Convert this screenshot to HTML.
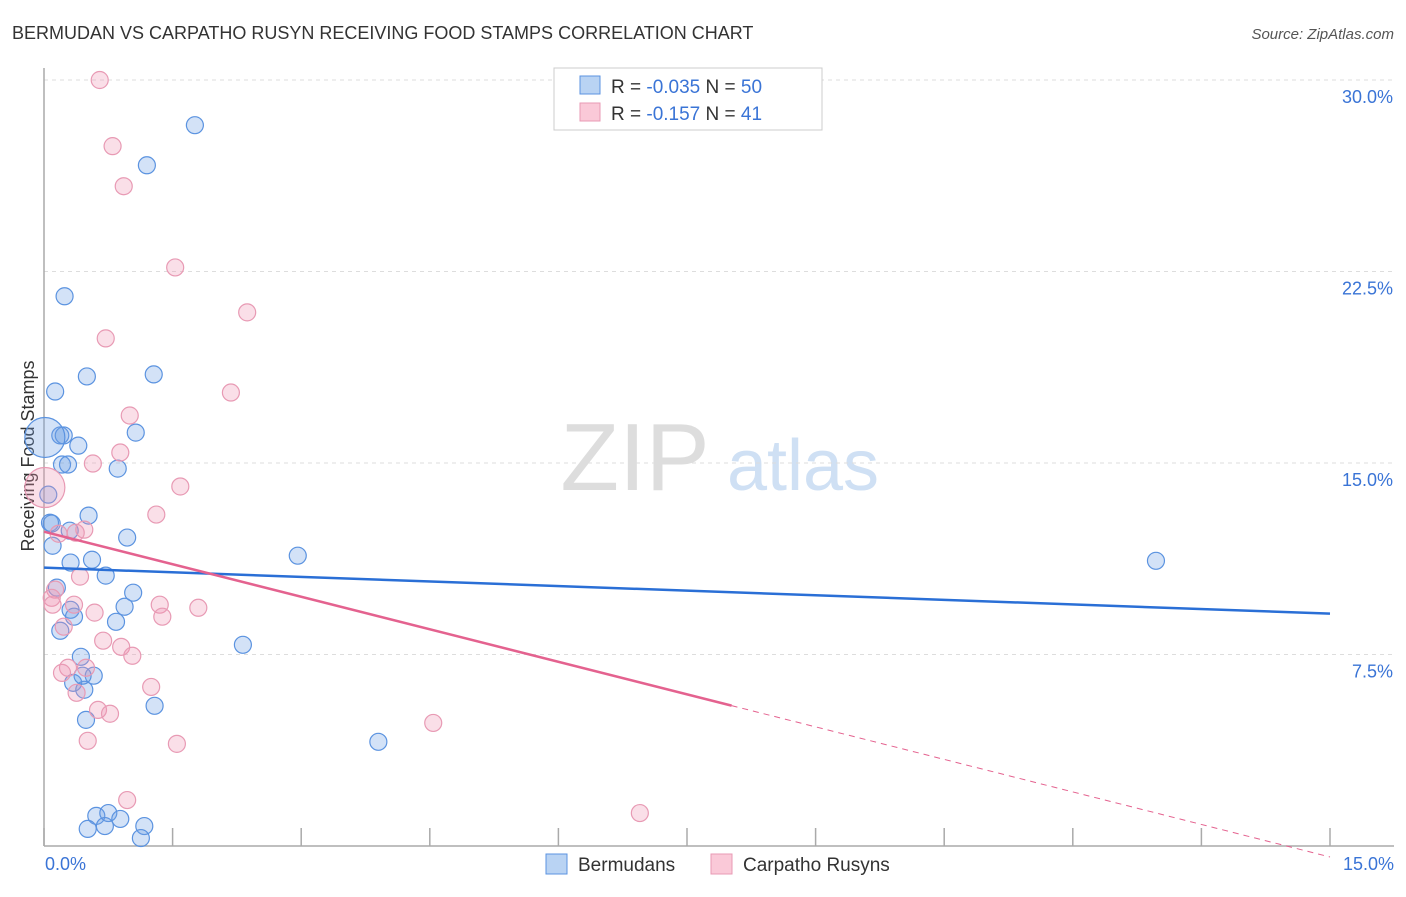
<!DOCTYPE html>
<html><head><meta charset="utf-8"><style>
body{margin:0;background:#fff;font-family:"Liberation Sans",sans-serif;}
svg text{font-family:"Liberation Sans",sans-serif;}
</style></head><body>
<svg id="chart" width="1406" height="892" viewBox="0 0 1406 892" xmlns="http://www.w3.org/2000/svg">
<text x="12" y="39" font-size="18" fill="#333">BERMUDAN VS CARPATHO RUSYN RECEIVING FOOD STAMPS CORRELATION CHART</text>
<text x="1394" y="39" font-size="15" fill="#555" font-style="italic" text-anchor="end">Source: ZipAtlas.com</text>
<text transform="translate(34,456) rotate(-90)" font-size="18" fill="#333" text-anchor="middle">Receiving Food Stamps</text>
<g>
<text x="635" y="490" font-size="96" fill="#ddd" font-family="Liberation Serif" text-anchor="middle">ZIP</text>
<text x="803" y="490" font-size="72" fill="#cfe0f4" text-anchor="middle">atlas</text>
</g>
<g id="grid"></g>
<g id="axes"></g>
<g id="marks"></g>
<g>
<rect x="554" y="68" width="268" height="62" fill="#fff" stroke="#ccc"/>
<rect x="580" y="76" width="20" height="18" fill="#b9d3f3" stroke="#5b93e0"/>
<rect x="580" y="103" width="20" height="18" fill="#fac9d8" stroke="#e89ab4"/>
<text x="611" y="93" font-size="19" fill="#333">R = <tspan fill="#3a74d6">-0.035</tspan>   N = <tspan fill="#3a74d6">50</tspan></text>
<text x="611" y="120" font-size="19" fill="#333">R =  <tspan fill="#3a74d6">-0.157</tspan>   N =  <tspan fill="#3a74d6">41</tspan></text>
</g>
<g>
<rect x="546" y="854" width="21" height="20" fill="#b9d3f3" stroke="#5b93e0"/>
<text x="578" y="871" font-size="19" fill="#333">Bermudans</text>
<rect x="711" y="854" width="21" height="20" fill="#fac9d8" stroke="#e89ab4"/>
<text x="743" y="871" font-size="19" fill="#333">Carpatho Rusyns</text>
</g>
</svg>
<script>
const yTicks=[7.5,15,22.5,30];
const yTickLabels=["7.5%","15.0%","22.5%","30.0%"];
const xTicks=[0,1.5,3,4.5,6,7.5,9,10.5,12,13.5,15];
const blueX=[1.76,1.20,0.24,0.50,1.28,0.13,1.07,0.19,0.23,0.40,0.21,0.28,0.86,0.05,0.52,0.07,0.09,0.30,0.97,0.10,0.56,2.96,12.97,0.31,0.72,0.15,1.04,0.31,0.94,0.35,0.84,0.19,2.32,0.43,0.58,0.34,0.47,0.45,1.29,0.49,3.90,0.61,0.75,0.89,0.71,0.51,1.17,1.13,0.01];
const blueY=[28.23,26.66,21.53,18.39,18.47,17.80,16.19,16.08,16.08,15.68,14.94,14.94,14.78,13.76,12.94,12.66,12.63,12.35,12.08,11.76,11.21,11.37,11.17,11.10,10.59,10.12,9.92,9.25,9.37,8.98,8.78,8.43,7.88,7.41,6.67,6.39,6.12,6.67,5.49,4.94,4.08,1.18,1.29,1.06,0.78,0.67,0.78,0.31,16.0];
const pinkX=[0.65,0.80,0.93,1.53,2.37,0.72,2.18,1.00,0.89,0.57,1.59,0.01,1.31,0.47,0.37,0.17,0.42,0.13,0.09,0.10,0.35,1.35,0.59,1.80,1.38,0.23,0.69,0.90,1.03,0.28,0.49,0.21,1.25,0.38,0.63,0.77,4.54,0.51,1.55,0.97,6.95];
const pinkY=[30.0,27.41,25.84,22.66,20.90,19.88,17.76,16.86,15.41,14.98,14.08,14.04,12.98,12.39,12.27,12.23,10.55,10.04,9.72,9.45,9.45,9.45,9.14,9.33,8.98,8.59,8.04,7.80,7.45,6.98,6.98,6.78,6.23,6.00,5.33,5.18,4.82,4.12,4.00,1.80,1.29];
const blueTrend=[10.90,9.10];
const pinkTrend=[12.31,-0.43];
const pinkSolidEnd=8.02;

const X0=44,X1=1330,Y0=846,Y30=80;
const sx=v=>X0+(X1-X0)*v/15;
const sy=v=>Y0-(Y0-Y30)*v/30;
const NS="http://www.w3.org/2000/svg";
function mk(tag,attrs,parent){const e=document.createElementNS(NS,tag);for(const k in attrs)e.setAttribute(k,attrs[k]);parent.appendChild(e);return e;}
const grid=document.getElementById('grid'),axes=document.getElementById('axes'),marks=document.getElementById('marks');
yTicks.forEach((t,i)=>{
 const l=mk('line',{x1:X0,x2:1394,y1:sy(t),y2:sy(t),stroke:'#ddd','stroke-dasharray':'4,4'},grid);
 
 
 const tx=mk('text',{x:1393,y:sy(t)+23,'font-size':18,fill:'#3a74d6','text-anchor':'end'},axes);
 tx.textContent=yTickLabels[i];
 
 
});
const ya=mk('line',{x1:X0,x2:X0,y1:68,y2:Y0,stroke:'#aaa','stroke-width':1.5},axes);


const xa=mk('line',{x1:X0,x2:1394,y1:Y0,y2:Y0,stroke:'#aaa','stroke-width':1.5},axes);


xTicks.forEach(t=>{
 const l=mk('line',{x1:sx(t),x2:sx(t),y1:828,y2:Y0,stroke:'#aaa','stroke-width':1.5},axes);
 
 
});
const xl0=mk('text',{x:45,y:870,'font-size':18,fill:'#3a74d6'},axes);xl0.textContent='0.0%';


const xl1=mk('text',{x:1394,y:870,'font-size':18,fill:'#3a74d6','text-anchor':'end'},axes);xl1.textContent='15.0%';



function dots(xs,ys,fill,stroke,name){
 xs.forEach((x,i)=>{
  const big=x<0.03;
  const c=mk('circle',{cx:sx(x),cy:sy(ys[i]),r:big?20:8.5,fill:fill,stroke:stroke,'stroke-width':1.2},marks);
  
  
 });
}
dots(blueX,blueY,'rgba(110,160,230,0.3)','#5b93e0','bermudan-point');
dots(pinkX,pinkY,'rgba(240,150,180,0.3)','#e89ab4','carpatho-rusyn-point');
const bt=mk('line',{x1:sx(0),y1:sy(blueTrend[0]),x2:sx(15),y2:sy(blueTrend[1]),stroke:'#2a6fd6','stroke-width':2.5},marks);


const pAt=x=>pinkTrend[0]+(pinkTrend[1]-pinkTrend[0])*x/15;
const pt=mk('line',{x1:sx(0),y1:sy(pinkTrend[0]),x2:sx(pinkSolidEnd),y2:sy(pAt(pinkSolidEnd)),stroke:'#e4628f','stroke-width':2.5},marks);


const pd=mk('line',{x1:sx(pinkSolidEnd),y1:sy(pAt(pinkSolidEnd)),x2:sx(15),y2:sy(pinkTrend[1]),stroke:'#e4628f','stroke-width':1,'stroke-dasharray':'6,5'},marks);


</script>
</body></html>
